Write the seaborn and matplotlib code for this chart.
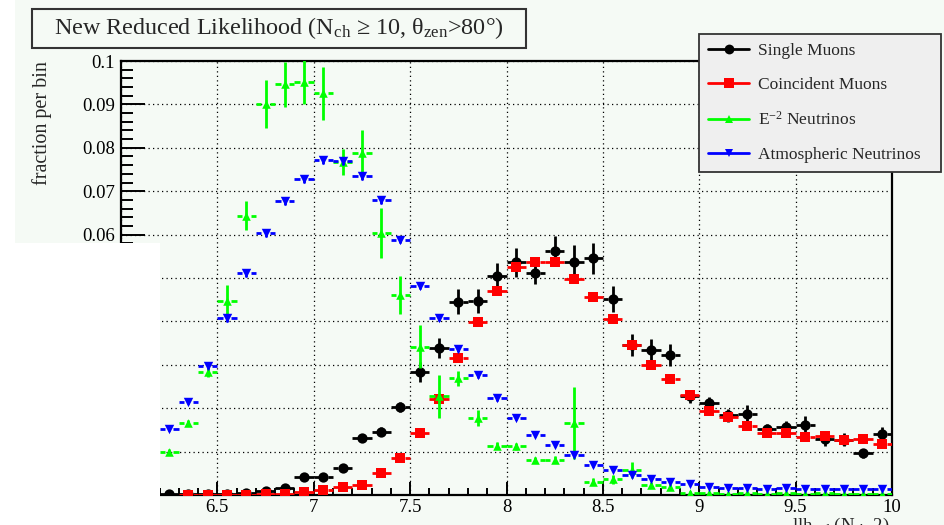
import numpy as np
import pandas as pd
import matplotlib
matplotlib.use("Agg")
import matplotlib.pyplot as plt
import seaborn as sns
from matplotlib.patches import Rectangle
from matplotlib.lines import Line2D
from matplotlib.ticker import MultipleLocator, FuncFormatter

# ---------------- data ----------------
bin_centers = [6.25, 6.35, 6.45, 6.55, 6.65, 6.75, 6.85, 6.95, 7.05, 7.15,
               7.25, 7.35, 7.45, 7.55, 7.65, 7.75, 7.85, 7.95, 8.05, 8.15,
               8.25, 8.35, 8.45, 8.55, 8.65, 8.75, 8.85, 8.95, 9.05, 9.15,
               9.25, 9.35, 9.45, 9.55, 9.65, 9.75, 9.85, 9.95]

single_muons = [0.0003, 0.0002, 0.0002, 0.0003, 0.0004, 0.0010, 0.0015, 0.0042, 0.0042, 0.0063,
                0.0131, 0.0146, 0.0203, 0.0284, 0.0338, 0.0445, 0.0447, 0.0505, 0.0536, 0.0511,
                0.0563, 0.0536, 0.0545, 0.0451, 0.0345, 0.0334, 0.0323, 0.0228, 0.0211, 0.0184,
                0.0186, 0.0152, 0.0156, 0.0161, 0.0128, 0.0127, 0.0096, 0.0140]
single_err = [0.0003, 0.0003, 0.0003, 0.0003, 0.0003, 0.0004, 0.0005, 0.0007, 0.0007, 0.0008,
              0.0010, 0.0010, 0.0012, 0.0023, 0.0023, 0.0029, 0.0028, 0.0030, 0.0033, 0.0025,
              0.0034, 0.0040, 0.0036, 0.0030, 0.0025, 0.0025, 0.0025, 0.0015, 0.0015, 0.0015,
              0.0022, 0.0012, 0.0015, 0.0021, 0.0015, 0.0015, 0.0010, 0.0017]

coincident_muons = [np.nan, 0.0001, 0.0001, 0.0001, 0.0001, 0.0002, 0.0003, 0.0006, 0.0012, 0.0018,
                    0.0023, 0.0050, 0.0085, 0.0144, 0.0221, 0.0316, 0.0398, 0.0470, 0.0525, 0.0538,
                    0.0536, 0.0497, 0.0456, 0.0405, 0.0346, 0.0300, 0.0267, 0.0230, 0.0194, 0.0180,
                    0.0159, 0.0142, 0.0143, 0.0133, 0.0137, 0.0127, 0.0128, 0.0118]
coincident_err = [np.nan, 0.0001, 0.0001, 0.0001, 0.0001, 0.0002, 0.0002, 0.0003, 0.0003, 0.0003,
                  0.0004, 0.0004, 0.0005, 0.0006, 0.0007, 0.0008, 0.0008, 0.0008, 0.0008, 0.0008,
                  0.0008, 0.0008, 0.0008, 0.0008, 0.0007, 0.0007, 0.0007, 0.0006, 0.0006, 0.0006,
                  0.0006, 0.0005, 0.0005, 0.0005, 0.0005, 0.0005, 0.0005, 0.0005]

e2_neutrinos = [0.0100, 0.0165, 0.0284, 0.0447, 0.0644, 0.0901, 0.0946, 0.0952, 0.0926, 0.0768,
                0.0789, 0.0603, 0.0461, 0.0342, 0.0227, 0.0269, 0.0177, 0.0113, 0.0112, 0.0081,
                0.0081, 0.0167, 0.0031, 0.0036, 0.0058, 0.0023, 0.0019, 0.0005, 0.0004, 0.0003,
                0.0005, 0.0003, 0.0004, 0.0003, 0.0004, 0.0003, 0.0003, 0.0002]
e2_err = [0.0006, 0.0007, 0.0012, 0.0037, 0.0033, 0.0056, 0.0051, 0.0052, 0.0061, 0.0030,
          0.0052, 0.0058, 0.0044, 0.0050, 0.0050, 0.0017, 0.0019, 0.0008, 0.0008, 0.0007,
          0.0008, 0.0083, 0.0008, 0.0010, 0.0019, 0.0006, 0.0006, 0.0004, 0.0003, 0.0003,
          0.0003, 0.0003, 0.0003, 0.0003, 0.0003, 0.0003, 0.0003, 0.0003]

atm_neutrinos = [0.0152, 0.0215, 0.0297, 0.0407, 0.0511, 0.0604, 0.0678, 0.0727, 0.0772, 0.0770,
                 0.0735, 0.0680, 0.0588, 0.0482, 0.0407, 0.0336, 0.0276, 0.0223, 0.0177, 0.0138,
                 0.0115, 0.0092, 0.0069, 0.0058, 0.0046, 0.0036, 0.0031, 0.0025, 0.0019, 0.0016,
                 0.0015, 0.0014, 0.0015, 0.0014, 0.0014, 0.0014, 0.0014, 0.0014]
atm_err = [0.0005, 0.0006, 0.0007, 0.0008, 0.0008, 0.0009, 0.0009, 0.0009, 0.0009, 0.0009,
           0.0009, 0.0009, 0.0008, 0.0008, 0.0007, 0.0007, 0.0006, 0.0006, 0.0005, 0.0005,
           0.0004, 0.0004, 0.0004, 0.0003, 0.0003, 0.0003, 0.0003, 0.0003, 0.0002, 0.0002,
           0.0002, 0.0002, 0.0002, 0.0002, 0.0002, 0.0002, 0.0002, 0.0002]

series_labels = ["Single Muons", "Coincident Muons", "E$^{-2}$ Neutrinos", "Atmospheric Neutrinos"]
title_text = "New Reduced Likelihood (N$_{\\mathrm{ch}}$ \u2265 10, \u03b8$_{\\mathrm{zen}}$>80\u00b0)"
xlabel_text = "llh$_{\\mathrm{red}}$ (N$_{\\mathrm{ch}}$-2)"
ylabel_text = "fraction per bin"

# ---------------- style ----------------
sns.set_style("ticks")
plt.rcParams['font.family'] = ['Liberation Serif', 'DejaVu Serif']
plt.rcParams['mathtext.fontset'] = 'custom'
plt.rcParams['mathtext.rm'] = 'Liberation Serif'
plt.rcParams['mathtext.it'] = 'Liberation Serif:italic'
plt.rcParams['mathtext.bf'] = 'Liberation Serif:bold'

BG = '#f5faf5'
W, H = 944, 525
fig = plt.figure(figsize=(W / 100, H / 100), dpi=100, facecolor=BG)
ax = fig.add_axes([121 / W, 1 - 495 / H, (892 - 121) / W, (495 - 61) / H])
ax.set_facecolor(BG)

styles = [
    ('black', 'o', 55),
    ('#ff0000', 's', 50),
    ('#00ff00', '^', 38),
    ('#0000ff', 'v', 46),
]
values = [single_muons, coincident_muons, e2_neutrinos, atm_neutrinos]
errors = [single_err, coincident_err, e2_err, atm_err]

xs = np.array(bin_centers)
half_w = 0.05
gap = 0.022
for i, (lab, ys, es, (c, m, s)) in enumerate(zip(series_labels, values, errors, styles)):
    ys = np.array(ys, float)
    es = np.array(es, float)
    ok = ~np.isnan(ys)
    z = 3 + i
    ax.vlines(xs[ok], (ys - es)[ok], (ys + es)[ok], color=c, lw=2.0, zorder=z)
    ax.hlines(ys[ok], xs[ok] - half_w, xs[ok] - gap, color=c, lw=2.0, zorder=z)
    ax.hlines(ys[ok], xs[ok] + gap, xs[ok] + half_w, color=c, lw=2.0, zorder=z)
    df = pd.DataFrame({'x': xs[ok], 'y': ys[ok]})
    sns.scatterplot(data=df, x='x', y='y', marker=m, color=c, s=s,
                    edgecolor=c, linewidth=0, ax=ax, zorder=z, legend=False)

ax.set_xlim(6, 10)
ax.set_ylim(0, 0.1)
ax.xaxis.set_major_locator(MultipleLocator(0.5))
ax.xaxis.set_minor_locator(MultipleLocator(0.1))
ax.yaxis.set_major_locator(MultipleLocator(0.01))
ax.yaxis.set_minor_locator(MultipleLocator(0.002))
fmt = FuncFormatter(lambda v, p: ('%.2f' % v).rstrip('0').rstrip('.') if abs(v) > 1e-9 else '0')
ax.xaxis.set_major_formatter(fmt)
ax.yaxis.set_major_formatter(fmt)
ax.tick_params(which='both', direction='in', top=False, right=False,
               colors='black', width=1.4, labelsize=13.5)
ax.tick_params(axis='y', which='major', length=17, pad=4.5)
ax.tick_params(axis='y', which='minor', length=8.5)
ax.tick_params(axis='x', which='major', length=9.5, pad=3)
ax.tick_params(axis='x', which='minor', length=5)
for sp in ax.spines.values():
    sp.set_visible(True)
    sp.set_linewidth(1.6)
    sp.set_color('black')
ax.grid(True, which='major', color='black', linestyle=(0, (1, 2.6)), linewidth=0.9)
ax.set_axisbelow(True)
ax.set_xlabel('')
ax.set_ylabel(ylabel_text, fontsize=14.5, loc='top')
ax.yaxis.set_label_coords(-0.090, 1.0)

# legend
handles = [Line2D([0], [0], color=c, lw=2.0, marker=m, markersize=np.sqrt(s) * 0.95,
                  markeredgewidth=0) for (c, m, s) in styles]
leg = ax.legend(handles, series_labels, loc='upper left',
                bbox_to_anchor=(699 / W, 1 - 171 / H, 242 / W, 137 / H),
                bbox_transform=fig.transFigure, mode='expand', borderaxespad=0,
                fontsize=12.5, handlelength=2.4, handletextpad=0.5, labelspacing=1.04,
                borderpad=0.5, fancybox=False, framealpha=1, facecolor='#efefef',
                edgecolor='#333333')
leg.get_frame().set_linewidth(1.3)
leg.set_zorder(20)

# title box
fig.add_artist(Rectangle((32 / W, 1 - 48 / H), (526 - 32) / W, (48 - 9) / H,
                         transform=fig.transFigure, fc=BG, ec='#333333', lw=1.5, zorder=5))
fig.text(279 / W, 1 - 28.5 / H, title_text, ha='center', va='center', fontsize=17.4, zorder=6)

# x axis title (cut at the bottom edge in the reference)
fig.text(890 / W, 1 - 531 / H, xlabel_text, ha='right', va='baseline', fontsize=13.5)

# white occluding areas seen in the reference
fig.add_artist(Rectangle((0, 0), 15 / W, 1, transform=fig.transFigure,
                         fc='white', ec='none', zorder=30))
fig.add_artist(Rectangle((15 / W, 0), (160 - 15) / W, (H - 243) / H, transform=fig.transFigure,
                         fc='white', ec='none', zorder=30))

fig.savefig('out.png', dpi=100, facecolor=BG)
